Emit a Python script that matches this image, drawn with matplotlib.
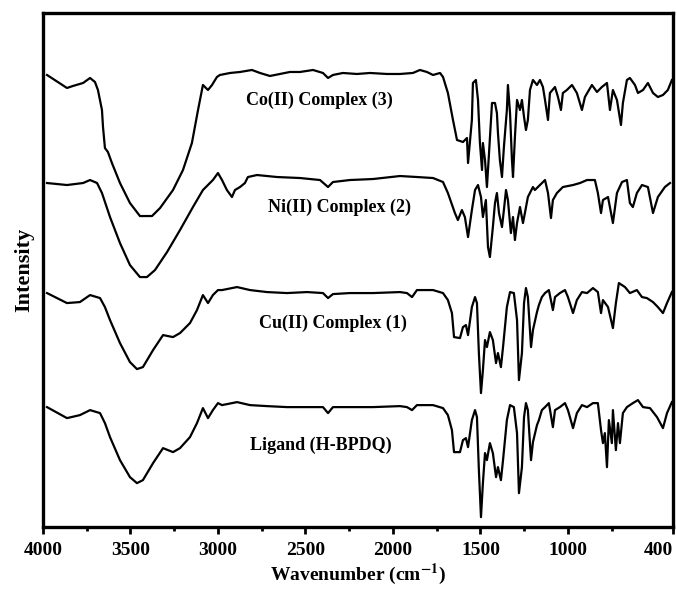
import matplotlib
matplotlib.use("Agg")
import matplotlib.pyplot as plt

plt.rcParams["mathtext.fontset"] = "stix"
plt.rcParams["mathtext.default"] = "bf"

# FTIR spectra, stacked (arbitrary units)
co_wn = [3977, 3863, 3829, 3771, 3731, 3703, 3686, 3663, 3657, 3646, 3629, 3606, 3560, 3503, 3446, 3377,
         3331, 3257, 3200, 3149, 3114, 3086, 3057, 3034, 3006, 2989, 2931, 2874, 2806, 2760, 2703, 2646,
         2589, 2531, 2457, 2400, 2371, 2343, 2286, 2206, 2131, 2034, 1960, 1886, 1846, 1806, 1771, 1731,
         1714, 1686, 1657, 1634, 1600, 1577, 1571, 1549, 1543, 1526, 1514, 1503, 1491, 1486, 1474, 1463,
         1451, 1434, 1417, 1406, 1400, 1389, 1377, 1366, 1349, 1343, 1331, 1320, 1314, 1303, 1291, 1274,
         1263, 1251, 1240, 1229, 1217, 1200, 1177, 1160, 1143, 1131, 1114, 1103, 1074, 1057, 1040, 1029,
         1006, 977, 949, 920, 903, 863, 834, 806, 777, 760, 743, 720, 697, 686, 663, 646,
         617, 600, 571, 543, 514, 486, 457, 429, 406]
co_int = [452, 439, 441, 444, 449, 445, 437, 417, 400, 379, 375, 364, 344, 324, 311, 311,
          319, 337, 357, 384, 417, 442, 437, 442, 450, 452, 454, 455, 457, 454, 451, 453,
          455, 455, 457, 454, 449, 452, 454, 453, 454, 453, 453, 454, 457, 455, 452, 454,
          450, 434, 407, 387, 385, 389, 364, 407, 444, 447, 427, 384, 357, 384, 367, 340,
          374, 424, 424, 414, 394, 367, 350, 380, 417, 442, 414, 367, 350, 390, 427, 417,
          427, 410, 397, 407, 437, 447, 442, 447, 440, 427, 407, 434, 440, 430, 417, 434,
          437, 442, 434, 417, 430, 442, 435, 440, 444, 417, 437, 427, 402, 424, 447, 449,
          442, 434, 437, 444, 434, 430, 432, 437, 447]

ni_wn = [3977, 3863, 3771, 3731, 3691, 3663, 3617, 3560, 3503, 3446, 3406, 3360, 3291, 3217, 3143, 3086,
         3029, 3000, 2977, 2949, 2920, 2903, 2874, 2846, 2829, 2777, 2663, 2531, 2417, 2371, 2343, 2246,
         2114, 1960, 1863, 1771, 1714, 1686, 1646, 1629, 1606, 1589, 1571, 1549, 1531, 1514, 1497, 1486,
         1469, 1457, 1446, 1429, 1417, 1406, 1394, 1377, 1366, 1354, 1343, 1326, 1314, 1303, 1291, 1274,
         1257, 1246, 1229, 1200, 1189, 1160, 1131, 1114, 1097, 1086, 1063, 1029, 971, 931, 891, 846,
         829, 811, 800, 771, 743, 720, 691, 663, 646, 629, 606, 577, 543, 514, 486, 446, 417]
ni_int = [344, 342, 344, 347, 344, 334, 310, 284, 262, 250, 250, 257, 275, 297, 320, 337,
          347, 354, 347, 337, 330, 337, 340, 344, 350, 352, 350, 349, 347, 340, 345, 347,
          348, 351, 350, 349, 345, 334, 314, 307, 317, 310, 290, 317, 337, 342, 330, 310,
          327, 280, 270, 300, 324, 334, 314, 300, 317, 337, 327, 294, 310, 287, 304, 320,
          304, 314, 330, 340, 337, 342, 347, 334, 309, 327, 334, 340, 342, 344, 347, 347,
          334, 314, 327, 330, 304, 334, 345, 347, 324, 320, 334, 342, 340, 314, 330, 340, 344]

cu_wn = [3977, 3863, 3789, 3731, 3674, 3646, 3617, 3560, 3503, 3463, 3429, 3371, 3314, 3257, 3217, 3160,
         3120, 3086, 3057, 3029, 3000, 2977, 2891, 2817, 2720, 2606, 2491, 2400, 2371, 2343, 2246, 2114,
         1960, 1920, 1891, 1863, 1771, 1714, 1686, 1663, 1651, 1617, 1600, 1583, 1571, 1549, 1531, 1520,
         1509, 1497, 1486, 1474, 1463, 1446, 1429, 1411, 1400, 1383, 1371, 1349, 1331, 1309, 1291, 1280,
         1263, 1251, 1240, 1229, 1211, 1200, 1177, 1166, 1149, 1131, 1109, 1086, 1074, 1046, 1017, 1000,
         971, 949, 920, 891, 857, 829, 811, 800, 771, 743, 726, 709, 674, 646, 606, 577,
         549, 514, 486, 457, 434, 406]
cu_int = [234, 224, 225, 232, 229, 220, 207, 184, 165, 158, 160, 177, 192, 190, 194, 204,
          217, 232, 224, 232, 237, 237, 240, 237, 235, 234, 235, 234, 229, 233, 234, 234,
          235, 234, 230, 237, 237, 234, 227, 214, 190, 189, 200, 202, 192, 220, 230, 224,
          174, 134, 157, 187, 180, 195, 187, 164, 174, 160, 180, 220, 235, 234, 207, 147,
          174, 224, 239, 230, 180, 197, 215, 222, 230, 234, 237, 217, 230, 234, 237, 230,
          214, 227, 235, 234, 239, 235, 214, 227, 220, 199, 224, 244, 240, 234, 237, 230,
          229, 225, 220, 214, 224, 235]

lig_wn = [3977, 3863, 3789, 3731, 3674, 3646, 3617, 3560, 3503, 3463, 3429, 3371, 3314, 3257, 3217, 3160,
          3120, 3086, 3057, 3029, 3000, 2977, 2891, 2817, 2720, 2606, 2491, 2400, 2371, 2343, 2246, 2114,
          1960, 1920, 1891, 1863, 1771, 1714, 1686, 1663, 1651, 1617, 1600, 1583, 1571, 1549, 1531, 1520,
          1509, 1497, 1486, 1474, 1463, 1446, 1429, 1411, 1400, 1383, 1371, 1349, 1331, 1309, 1291, 1280,
          1263, 1251, 1240, 1229, 1211, 1200, 1177, 1166, 1149, 1131, 1109, 1086, 1074, 1046, 1017, 1000,
          971, 949, 920, 891, 857, 829, 811, 800, 789, 777, 766, 749, 743, 726, 714, 703,
          686, 663, 629, 600, 571, 531, 491, 457, 434, 406]
lig_int = [120, 109, 112, 117, 114, 104, 90, 67, 50, 44, 47, 64, 79, 75, 79, 90,
           104, 119, 109, 117, 124, 122, 125, 122, 121, 120, 120, 120, 114, 120, 120, 120,
           121, 120, 117, 122, 122, 119, 112, 97, 75, 75, 87, 89, 80, 107, 117, 110,
           57, 10, 44, 74, 67, 84, 74, 50, 60, 47, 67, 107, 122, 120, 94, 34,
           60, 110, 124, 117, 67, 85, 102, 107, 117, 120, 124, 100, 117, 120, 124, 117,
           99, 114, 122, 120, 124, 124, 97, 84, 94, 60, 107, 84, 117, 77, 104, 84,
           114, 120, 124, 127, 120, 119, 110, 99, 114, 125]

labels = ["Co(II) Complex (3)", "Ni(II) Complex (2)", "Cu(II) Complex (1)", "Ligand (H-BPDQ)"]
label_x = [2423, 2303, 2343, 2411]
label_y = [427, 320, 204, 82]

xticks = [4000, 3500, 3000, 2500, 2000, 1500, 1000, 400]
xminor = [3750, 3250, 2750, 2250, 1750, 1250, 750]

serif = ["Liberation Serif", "DejaVu Serif"]

fig = plt.figure(figsize=(6.77, 5.89), dpi=100)
ax = fig.add_axes([0.0635, 0.105, 0.9305, 0.873])

for wn, inten in [(co_wn, co_int), (ni_wn, ni_int), (cu_wn, cu_int), (lig_wn, lig_int)]:
    ax.plot(wn, inten, color="black", lw=1.6)

for txt, x, y in zip(labels, label_x, label_y):
    ax.text(x, y, txt, ha="center", va="center", fontsize=13, fontweight="bold", family=serif)

ax.set_xlim(4000, 400)
ax.set_ylim(0, 514)
ax.set_xticks(xticks)
ax.set_xticks(xminor, minor=True)
ax.set_yticks([])
ax.tick_params(axis="x", which="major", direction="out", length=5, width=2, pad=6)
ax.tick_params(axis="x", which="minor", direction="out", length=3, width=2)
tls = ax.get_xticklabels()
for lab in tls:
    lab.set_fontfamily(serif)
    lab.set_fontweight("bold")
    lab.set_fontsize(14)
tls[-1].set_horizontalalignment("right")
for sp in ax.spines.values():
    sp.set_linewidth(2.4)

ax.set_xlabel("Wavenumber (cm$^{-1}$)", fontsize=14, fontweight="bold", family=serif, labelpad=2)
ax.set_ylabel("Intensity", fontsize=16, fontweight="bold", family=serif, labelpad=6)

fig.savefig("out.png", dpi=100)
